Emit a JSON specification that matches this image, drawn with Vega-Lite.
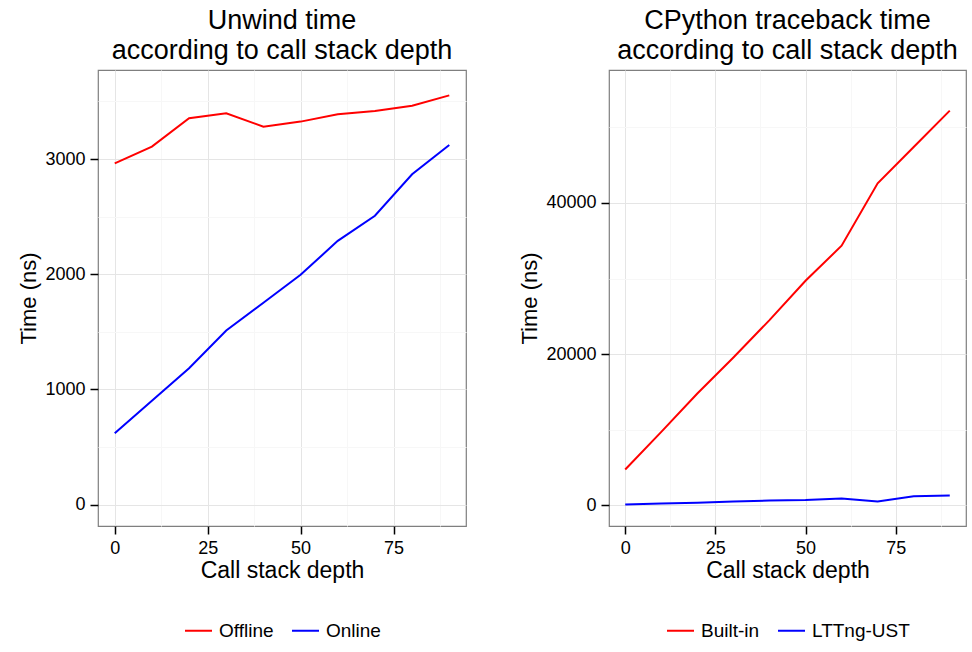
{
  "$schema": "https://vega.github.io/schema/vega-lite/v6.json",
  "padding": {"left": 17, "top": 6, "right": 2, "bottom": 2},
  "datasets": {
    "unwind": [
      {"depth": 0, "time": 2962, "method": "Offline"},
      {"depth": 10, "time": 3108, "method": "Offline"},
      {"depth": 20, "time": 3354, "method": "Offline"},
      {"depth": 30, "time": 3397, "method": "Offline"},
      {"depth": 40, "time": 3281, "method": "Offline"},
      {"depth": 50, "time": 3325, "method": "Offline"},
      {"depth": 60, "time": 3389, "method": "Offline"},
      {"depth": 70, "time": 3417, "method": "Offline"},
      {"depth": 80, "time": 3463, "method": "Offline"},
      {"depth": 90, "time": 3553, "method": "Offline"},
      {"depth": 0, "time": 621, "method": "Online"},
      {"depth": 10, "time": 902, "method": "Online"},
      {"depth": 20, "time": 1185, "method": "Online"},
      {"depth": 30, "time": 1512, "method": "Online"},
      {"depth": 40, "time": 1753, "method": "Online"},
      {"depth": 50, "time": 1995, "method": "Online"},
      {"depth": 60, "time": 2290, "method": "Online"},
      {"depth": 70, "time": 2508, "method": "Online"},
      {"depth": 80, "time": 2868, "method": "Online"},
      {"depth": 90, "time": 3122, "method": "Online"}
    ],
    "traceback": [
      {"depth": 0, "time": 4728, "method": "Built-in"},
      {"depth": 10, "time": 9710, "method": "Built-in"},
      {"depth": 20, "time": 14790, "method": "Built-in"},
      {"depth": 30, "time": 19560, "method": "Built-in"},
      {"depth": 40, "time": 24500, "method": "Built-in"},
      {"depth": 50, "time": 29700, "method": "Built-in"},
      {"depth": 60, "time": 34345, "method": "Built-in"},
      {"depth": 70, "time": 42608, "method": "Built-in"},
      {"depth": 80, "time": 47400, "method": "Built-in"},
      {"depth": 90, "time": 52225, "method": "Built-in"},
      {"depth": 0, "time": 100, "method": "LTTng-UST"},
      {"depth": 10, "time": 220, "method": "LTTng-UST"},
      {"depth": 20, "time": 320, "method": "LTTng-UST"},
      {"depth": 30, "time": 480, "method": "LTTng-UST"},
      {"depth": 40, "time": 630, "method": "LTTng-UST"},
      {"depth": 50, "time": 700, "method": "LTTng-UST"},
      {"depth": 60, "time": 890, "method": "LTTng-UST"},
      {"depth": 70, "time": 490, "method": "LTTng-UST"},
      {"depth": 80, "time": 1190, "method": "LTTng-UST"},
      {"depth": 90, "time": 1280, "method": "LTTng-UST"}
    ]
  },
  "config": {
    "font": "Liberation Sans",
    "view": {"stroke": "#7f7f7f", "strokeWidth": 1.2},
    "axis": {
      "domain": false,
      "tickColor": "#000000",
      "tickSize": 8,
      "tickWidth": 1.5,
      "labelColor": "#000000",
      "labelFontSize": 18,
      "labelPadding": 5,
      "labelOverlap": false,
      "labelFlush": false,
      "titleColor": "#000000",
      "titleFontWeight": "normal",
      "gridWidth": 1
    },
    "axisX": {"titleFontSize": 23, "titlePadding": 2},
    "axisY": {"titleFontSize": 22, "titlePadding": 4},
    "title": {"fontSize": 27, "fontWeight": "normal", "color": "#000000", "lineHeight": 30, "offset": 5, "frame": "group", "anchor": "middle"},
    "legend": {
      "orient": "bottom",
      "direction": "horizontal",
      "symbolType": "stroke",
      "symbolSize": 729,
      "symbolStrokeWidth": 2,
      "labelFontSize": 19,
      "labelColor": "#000000",
      "labelOffset": 6,
      "columnPadding": 14,
      "offset": 34,
      "layout": {"bottom": {"anchor": "middle"}}
    }
  },
  "spacing": 51,
  "resolve": {"scale": {"color": "independent"}},
  "hconcat": [
    {
      "width": 368,
      "height": 456,
      "title": {"text": ["Unwind time", "according to call stack depth"]},
      "data": {"name": "unwind"},
      "mark": {"type": "line", "strokeWidth": 2},
      "encoding": {
        "x": {
          "field": "depth", "type": "quantitative", "title": "Call stack depth",
          "scale": {"domain": [-4.5, 94.5], "nice": false, "zero": false},
          "axis": {
            "values": [0, 12.5, 25, 37.5, 50, 62.5, 75, 87.5],
            "labelExpr": "datum.value % 25 === 0 ? datum.label : ''",
            "tickOpacity": {"condition": {"test": "datum.value % 25 !== 0", "value": 0}, "value": 1},
            "gridColor": {"condition": {"test": "datum.value % 25 !== 0", "value": "#f7f7f7"}, "value": "#e5e5e5"}
          }
        },
        "y": {
          "field": "time", "type": "quantitative", "title": "Time (ns)",
          "scale": {"domain": [-185, 3773], "nice": false, "zero": false},
          "axis": {
            "values": [0, 500, 1000, 1500, 2000, 2500, 3000, 3500],
            "format": "d",
            "labelExpr": "datum.value % 1000 === 0 ? datum.label : ''",
            "tickOpacity": {"condition": {"test": "datum.value % 1000 !== 0", "value": 0}, "value": 1},
            "gridColor": {"condition": {"test": "datum.value % 1000 !== 0", "value": "#f7f7f7"}, "value": "#e5e5e5"}
          }
        },
        "color": {
          "field": "method", "type": "nominal",
          "scale": {"domain": ["Offline", "Online"], "range": ["#ff0000", "#0000ff"]},
          "legend": {"title": null}
        }
      }
    },
    {
      "width": 357,
      "height": 456,
      "title": {"text": ["CPython traceback time", "according to call stack depth"]},
      "data": {"name": "traceback"},
      "mark": {"type": "line", "strokeWidth": 2},
      "encoding": {
        "x": {
          "field": "depth", "type": "quantitative", "title": "Call stack depth",
          "scale": {"domain": [-4.5, 94.5], "nice": false, "zero": false},
          "axis": {
            "values": [0, 12.5, 25, 37.5, 50, 62.5, 75, 87.5],
            "labelExpr": "datum.value % 25 === 0 ? datum.label : ''",
            "tickOpacity": {"condition": {"test": "datum.value % 25 !== 0", "value": 0}, "value": 1},
            "gridColor": {"condition": {"test": "datum.value % 25 !== 0", "value": "#f7f7f7"}, "value": "#e5e5e5"}
          }
        },
        "y": {
          "field": "time", "type": "quantitative", "title": "Time (ns)",
          "scale": {"domain": [-2750, 57600], "nice": false, "zero": false},
          "axis": {
            "values": [0, 10000, 20000, 30000, 40000, 50000],
            "format": "d",
            "labelExpr": "datum.value % 20000 === 0 ? datum.label : ''",
            "tickOpacity": {"condition": {"test": "datum.value % 20000 !== 0", "value": 0}, "value": 1},
            "gridColor": {"condition": {"test": "datum.value % 20000 !== 0", "value": "#f7f7f7"}, "value": "#e5e5e5"}
          }
        },
        "color": {
          "field": "method", "type": "nominal",
          "scale": {"domain": ["Built-in", "LTTng-UST"], "range": ["#ff0000", "#0000ff"]},
          "legend": {"title": null}
        }
      }
    }
  ]
}
